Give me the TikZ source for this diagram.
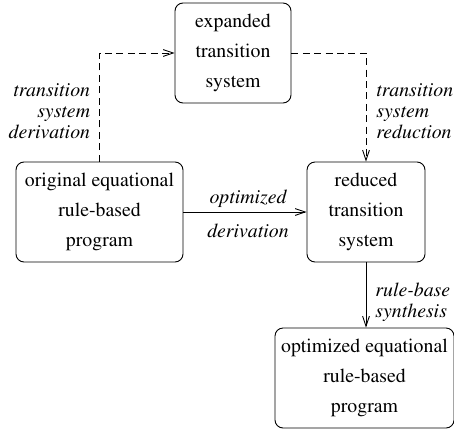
\documentclass[tikz,border=0pt]{standalone}
\usepackage[T1]{fontenc}
\renewcommand{\rmdefault}{ptm}
\usetikzlibrary{arrows.meta}
\tikzset{
	stage/.style={draw, line width=0.45pt, rounded corners=4pt, align=center, inner sep=0pt, minimum height=50pt, font=\fontsize{9.9}{15}\selectfont},
	steplabel/.style={inner sep=0pt, font=\fontsize{9.9}{10.5}\selectfont\itshape},
	flow/.style={line width=0.45pt, -{Straight Barb[length=5pt,width=3.4pt,line width=0.45pt]}},
	dashflow/.style={flow, dash pattern=on 3.5pt off 2.2pt},
}
\begin{document}
\begin{tikzpicture}[x=0.5pt, y=-0.5pt]
		%%%%% START %%%%%
		\useasboundingbox (0, 0) rectangle (454, 428);
		
		\node[stage, minimum width=58pt] (expanded) at (233, 53) {expanded\\transition\\system};
		\node[stage, minimum width=83.5pt] (original) at (99.5, 212) {original equational\\rule-based\\program};
		\node[stage, minimum width=59pt] (reduced) at (366, 212) {reduced\\transition\\system};
		\node[stage, minimum width=89.5pt] (optimized) at (364.5, 378) {optimized equational\\rule-based\\program};
		
		% dashed detour through the expanded system
		\draw[dashflow] (original.north) |- node[steplabel, pos=0.25, left=4.5pt, yshift=-2.2pt, align=right] {transition\\system\\derivation} (expanded.west);
		\draw[dashflow] (expanded.east) -| node[steplabel, pos=0.75, right=5pt, yshift=-2.2pt, align=left] {transition\\system\\reduction} (reduced.north);
		
		% direct way
		\draw[flow] (original.east) -- node[steplabel, above=2pt, xshift=1.5pt] {optimized} node[steplabel, below=6pt, xshift=1.5pt] {derivation} (reduced.west);
		\draw[flow] (reduced.south) -- node[steplabel, right=4.5pt, yshift=-3.5pt, align=left] {rule-base\\synthesis} (reduced.south |- optimized.north);
		
		%%%%% END %%%%%
\end{tikzpicture}
\end{document}
